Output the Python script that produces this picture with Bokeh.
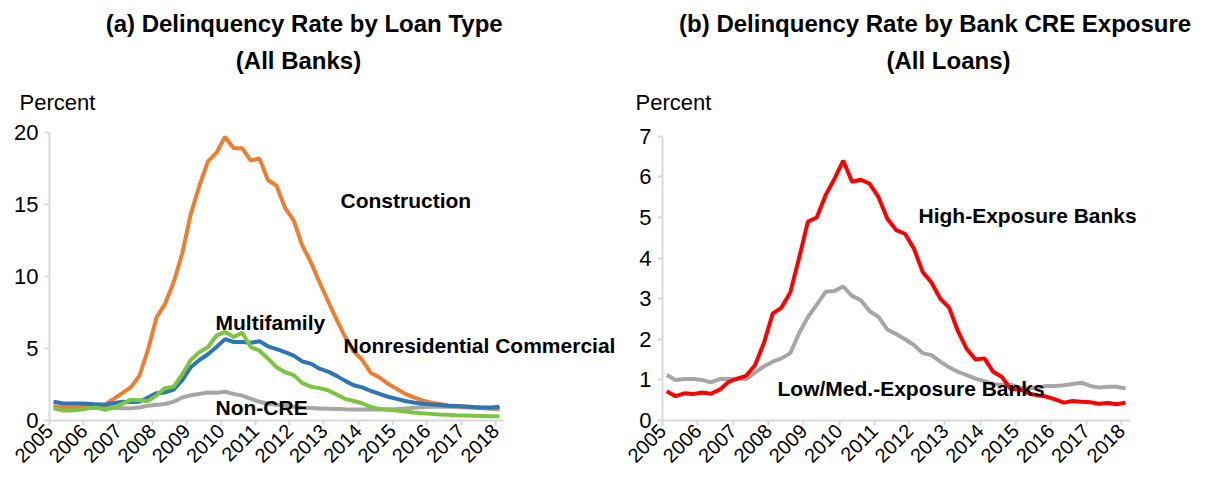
import math
from bokeh.plotting import figure
from bokeh.layouts import row
from bokeh.models import Range1d, FixedTicker, Label
from bokeh.embed import file_html
from bokeh.resources import INLINE

# ---------------- data ----------------
quarters = [(y, q) for y in range(2005, 2019) for q in range(1, 5)][:53]  # 2005Q1 .. 2018Q1
year_ticks = list(range(2005, 2019))

construction = [1.0, 0.9, 0.9, 0.92, 0.95, 0.97, 1.1, 1.5, 1.9, 2.3,
                3.1, 4.9, 7.15, 8.1, 9.6, 11.6, 14.35, 16.3, 18.0, 18.6,
                19.7, 18.9, 18.9, 18.05, 18.2, 16.7, 16.3, 14.75, 13.9, 12.15,
                11.0, 9.6, 8.3, 7.0, 5.8, 4.8, 4.2, 3.3, 3.0, 2.55,
                2.2, 1.85, 1.6, 1.4, 1.25, 1.15, 1.05, 1.0, 0.95, 0.9,
                0.87, 0.85, 0.8]
nonres_commercial = [1.3, 1.2, 1.18, 1.18, 1.17, 1.12, 1.1, 1.2, 1.3, 1.28,
                     1.3, 1.6, 1.9, 1.95, 2.15, 2.8, 3.7, 4.2, 4.6, 5.1,
                     5.65, 5.45, 5.45, 5.4, 5.5, 5.15, 4.95, 4.75, 4.5, 4.1,
                     3.95, 3.6, 3.4, 3.1, 2.75, 2.45, 2.3, 2.05, 1.85, 1.65,
                     1.5, 1.35, 1.25, 1.17, 1.12, 1.08, 1.02, 1.0, 0.97, 0.93,
                     0.9, 0.9, 0.95]
multifamily = [0.85, 0.7, 0.7, 0.75, 0.85, 0.9, 0.75, 0.9, 1.15, 1.45,
               1.4, 1.35, 1.75, 2.25, 2.35, 3.2, 4.2, 4.75, 5.1, 5.9,
               6.15, 5.8, 6.1, 5.1, 4.85, 4.3, 3.7, 3.35, 3.15, 2.6,
               2.35, 2.25, 2.1, 1.8, 1.5, 1.35, 1.2, 0.93, 0.8, 0.74,
               0.7, 0.62, 0.55, 0.5, 0.46, 0.42, 0.4, 0.37, 0.35, 0.33,
               0.32, 0.3, 0.3]
non_cre = [0.95, 0.95, 0.92, 0.9, 0.9, 0.88, 0.92, 0.88, 0.85, 0.85,
           0.9, 1.03, 1.1, 1.15, 1.3, 1.6, 1.75, 1.85, 1.95, 1.92,
           2.0, 1.85, 1.73, 1.5, 1.3, 1.16, 1.1, 1.05, 0.95, 0.88,
           0.86, 0.84, 0.82, 0.8, 0.78, 0.77, 0.77, 0.76, 0.76, 0.78,
           0.8, 0.84, 0.88, 0.92, 0.95, 0.95, 0.95, 0.93, 0.9, 0.88,
           0.85, 0.82, 0.8]

high_exposure = [0.72, 0.6, 0.67, 0.65, 0.69, 0.66, 0.76, 0.95, 1.03, 1.1,
                 1.36, 1.9, 2.63, 2.78, 3.15, 4.0, 4.9, 5.0, 5.55, 5.95,
                 6.4, 5.88, 5.93, 5.83, 5.5, 4.97, 4.69, 4.6, 4.24, 3.66,
                 3.4, 3.0, 2.78, 2.2, 1.76, 1.5, 1.53, 1.2, 1.07, 0.77,
                 0.77, 0.67, 0.62, 0.59, 0.52, 0.44, 0.48, 0.46, 0.45, 0.41,
                 0.43, 0.40, 0.44]
low_med_exposure = [1.12, 1.0, 1.02, 1.02, 1.0, 0.94, 1.02, 1.02, 1.03, 1.02,
                    1.18, 1.33, 1.45, 1.53, 1.66, 2.15, 2.55, 2.85, 3.17, 3.19,
                    3.3, 3.07, 2.96, 2.69, 2.55, 2.24, 2.13, 2.0, 1.86, 1.66,
                    1.61, 1.45, 1.31, 1.2, 1.12, 1.03, 0.97, 0.89, 0.88, 0.88,
                    0.81, 0.79, 0.81, 0.85, 0.85, 0.87, 0.9, 0.93, 0.85, 0.81,
                    0.83, 0.83, 0.79]

left_yticks = [0, 5, 10, 15, 20]
right_yticks = [0, 1, 2, 3, 4, 5, 6, 7]

# quarter -> position on a year axis
xs = [y + (q - 1) * 0.25 + 0.12 for (y, q) in quarters]

FONT = "Liberation Sans"
AXIS_COLOR = "#D9D9D9"
FIG_H = 470
ZERO_PX = 420  # pixel row (from figure top) of the value 0


def make_fig(width, axis_px, px_per_year, px_per_unit, y_max, yticks):
    # the frame covers the whole figure; both axes are pinned at (2005, 0)
    x0 = 2005 - axis_px / px_per_year
    p = figure(width=width, height=FIG_H, output_backend="svg", toolbar_location=None,
               x_range=Range1d(x0, x0 + width / px_per_year),
               y_range=Range1d(-(FIG_H - ZERO_PX) / px_per_unit, ZERO_PX / px_per_unit),
               min_border_left=0, min_border_right=0,
               min_border_top=0, min_border_bottom=0)
    p.outline_line_color = None
    p.grid.visible = False
    p.background_fill_color = "white"
    p.border_fill_color = "white"
    for ax in (p.xaxis[0], p.yaxis[0]):
        ax.axis_line_color = AXIS_COLOR
        ax.axis_line_width = 2
        ax.major_tick_line_color = AXIS_COLOR
        ax.major_tick_line_width = 2
        ax.major_tick_in = 0
        ax.major_tick_out = 5
        ax.minor_tick_line_color = None
        ax.major_label_text_font = FONT
        ax.major_label_text_color = "#000000"
    p.xaxis.ticker = FixedTicker(ticks=year_ticks)
    p.xaxis.bounds = (2005, 2018.25)
    p.xaxis.fixed_location = 0
    p.xaxis.major_label_orientation = math.pi / 4
    p.xaxis.major_label_text_font_size = "20px"
    p.xaxis.major_label_standoff = 2
    p.yaxis.ticker = FixedTicker(ticks=yticks)
    p.yaxis.bounds = (0, y_max)
    p.yaxis.fixed_location = 2005
    p.yaxis.major_label_text_font_size = "22px"
    p.yaxis.major_label_standoff = 6
    return p


def add_text(p, x, y, txt, size, bold=True, align="left"):
    p.add_layout(Label(x=x, y=y, text=txt, text_font=FONT,
                       text_font_size=size, text_font_style="bold" if bold else "normal",
                       text_align=align, text_baseline="middle", text_color="#000000"))


# ---------------- left panel ----------------
L_PX_YEAR = 34.3
L_PX_UNIT = 14.4
left = make_fig(620, 49, L_PX_YEAR, L_PX_UNIT, 20, left_yticks)
lw = 4
left.line(xs, non_cre, line_color="#A6A6A6", line_width=lw)
left.line(xs, construction, line_color="#ED7D31", line_width=lw)
left.line(xs, nonres_commercial, line_color="#2E75B6", line_width=lw)
left.line(xs, multifamily, line_color="#7DC540", line_width=lw)

def ly(page_y):
    return (ZERO_PX - page_y) / L_PX_UNIT

def lx(page_x):
    return 2005 + (page_x - 49) / L_PX_YEAR

add_text(left, lx(307), ly(23), "(a)  Delinquency Rate by Loan Type", "24px", align="center")
add_text(left, lx(298), ly(60), "(All Banks)", "24px", align="center")
add_text(left, lx(19), ly(102), "Percent", "22px", bold=False)
add_text(left, lx(340), ly(200), "Construction", "21px")
add_text(left, lx(215), ly(322), "Multifamily", "21px")
add_text(left, lx(343), ly(345), "Nonresidential Commercial", "21px")
add_text(left, lx(215), ly(407), "Non-CRE", "21px")

# ---------------- right panel ----------------
R_PX_YEAR = 35.3
R_PX_UNIT = 40.6
right = make_fig(576, 42, R_PX_YEAR, R_PX_UNIT, 7, right_yticks)
right.line(xs, low_med_exposure, line_color="#A6A6A6", line_width=lw)
right.line(xs, high_exposure, line_color="#FF0000", line_width=lw)

def ry(page_y):
    return (ZERO_PX - page_y) / R_PX_UNIT

def rx(page_x):
    return 2005 + (page_x - 662) / R_PX_YEAR

add_text(right, rx(938), ry(23), "(b)  Delinquency Rate by Bank CRE Exposure", "24px", align="center")
add_text(right, rx(948), ry(60), "(All Loans)", "24px", align="center")
add_text(right, rx(635), ry(102), "Percent", "22px", bold=False)
add_text(right, rx(918), ry(215), "High-Exposure Banks", "21px")
add_text(right, rx(777), ry(388), "Low/Med.-Exposure Banks", "21px")

layout = row(left, right)
open("out.html", "w").write(file_html(layout, INLINE))
